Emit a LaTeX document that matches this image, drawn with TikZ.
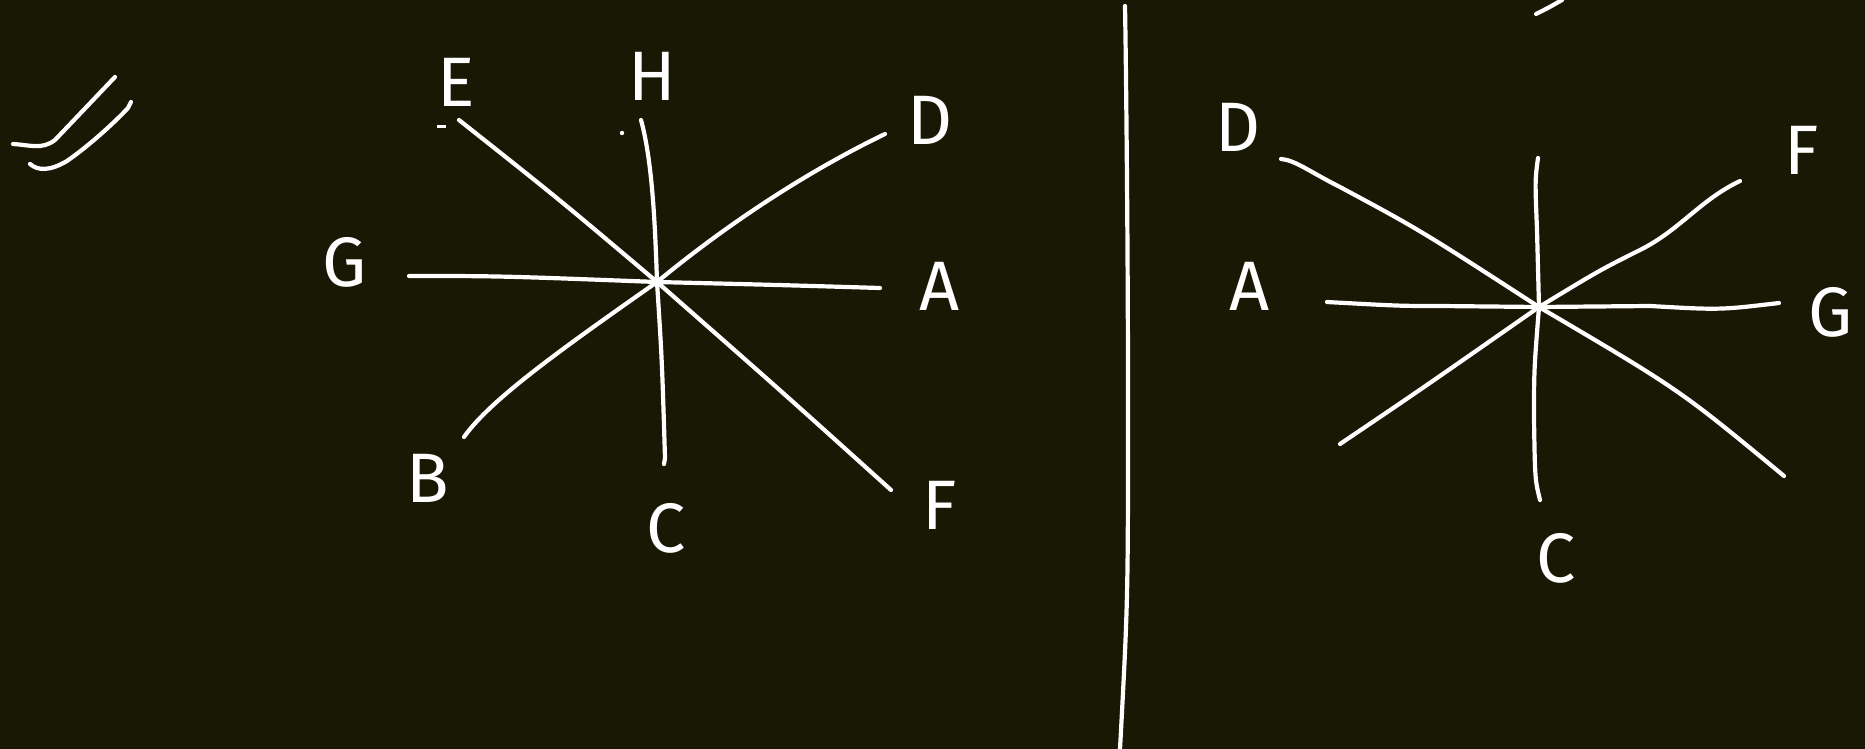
\documentclass[tikz,border=0pt]{standalone}
\usepackage{fontspec}
\setsansfont{Fira Sans}
\definecolor{board}{RGB}{25,24,4}
\tikzset{
  chalk/.style={draw=white, line width=4.2pt, line cap=round, line join=round},
  lbl/.style={text=white, font=\sffamily\fontsize{70}{70}\selectfont, inner sep=0pt},
  speck/.style={fill=white, draw=none}
}
\begin{document}
\begin{tikzpicture}[x=1pt,y=-1pt]
\fill[board] (0,0) rectangle (1865,749);
\useasboundingbox (0,0) rectangle (1865,749);
\begin{scope}
\clip (0,0) rectangle (1865,749);
% ---------- top-left marks
\draw[chalk] (13,144) .. controls (30,145) and (42,150) .. (55,140) -- (115,77);
\draw[chalk] (30,164) .. controls (38,171) and (50,171) .. (67,161) .. controls (90,145) and (115,122) .. (128,108) -- (131,102);
% ---------- left star
\coordinate (L) at (657,282);
\coordinate (Le) at (459,120);
\coordinate (Lf) at (891,490);
\coordinate (Lh) at (641,120);
\coordinate (Lc) at (664,464);
\coordinate (Ld) at (885,134);
\coordinate (Lb) at (464,437);
\coordinate (Lg) at (409,276);
\coordinate (La) at (880,288);
\draw[chalk] (Le) .. controls (560,200) .. (L) .. controls (780,390) .. (Lf);
\draw[chalk] (Lh) .. controls (652,160) and (655,220) .. (L) .. controls (662,360) .. (665,458) -- (Lc);
\draw[chalk] (Ld) .. controls (800,175) and (720,230) .. (L) .. controls (560,350) and (490,400) .. (Lb);
\draw[chalk] (Lg) .. controls (500,276) .. (L) .. controls (780,285) .. (La);
\node[lbl] (lE) at (456,82) {E};
\node[lbl] (lH) at (652,76) {H};
\node[lbl] (lD) at (930,120) {D};
\node[lbl] (lG) at (345,262) {G};
\node[lbl] (lA) at (940,286) {A};
\node[lbl] (lB) at (428,478) {B};
\node[lbl] (lC) at (666,528) {C};
\node[lbl] (lF) at (940,505) {F};
\fill[speck] (437,125) rectangle (446,128);
\fill[speck] (622,133) circle (2.2);
\fill[speck] (659,509) circle (2.2);
% ---------- divider
\coordinate (Vt) at (1125,6);
\coordinate (Vb) at (1120,749);
\draw[chalk] (Vt) .. controls (1126,60) and (1128,250) .. (1128,400) .. controls (1128,600) .. (Vb);
% ---------- right star
\coordinate (R) at (1539,307);
\coordinate (Rd) at (1281,159);
\coordinate (Rd2) at (1784,476);
\coordinate (Rv) at (1538,158);
\coordinate (Rc) at (1540,500);
\coordinate (Rf) at (1740,181);
\coordinate (Rb) at (1340,444);
\coordinate (Ra) at (1327,302);
\coordinate (Rg) at (1779,303);
\draw[chalk] (Rd) .. controls (1295,160) and (1310,172) .. (1340,187) .. controls (1420,230) .. (R) .. controls (1680,390) .. (Rd2);
\draw[chalk] (Rv) .. controls (1535,180) .. (1537,230) -- (R) .. controls (1534,370) .. (1534,420) .. controls (1535,480) .. (Rc);
\draw[chalk] (Rf) .. controls (1700,200) and (1680,230) .. (1640,250) .. controls (1600,270) .. (R) .. controls (1420,390) .. (Rb);
\draw[chalk] (Ra) .. controls (1400,306) .. (1440,306) -- (R) -- (1650,306) .. controls (1720,310) .. (Rg);
\node[lbl] (rD) at (1238,127) {D};
\node[lbl] (rF) at (1802,150) {F};
\node[lbl] (rA) at (1250,286) {A};
\node[lbl, anchor=west] (rG) at (1808,312) {G};
\node[lbl] (rC) at (1556,558) {C};
% ---------- top-right fragment
\coordinate (Tt) at (1536,14);
\coordinate (Tu) at (1562,0);
\draw[chalk] (Tt) .. controls (1548,8) .. (Tu);
\end{scope}
\end{tikzpicture}
\end{document}
